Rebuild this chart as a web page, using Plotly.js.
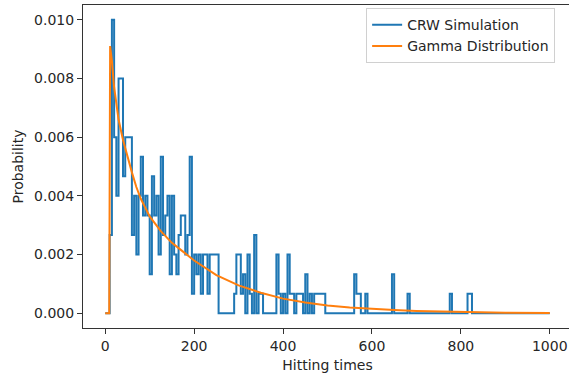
<!DOCTYPE html>
<html>
<head>
<meta charset="utf-8">
<script src="https://cdn.plot.ly/plotly-3.0.1.min.js"></script>
<style>
html,body{margin:0;padding:0;overflow:hidden;background:#fff;}
#chart{width:575px;height:376px;}
</style>
</head>
<body>
<div id="chart"></div>
<script>
// CRW simulation: probability per 5-unit bin of hitting time, starting at t=0
var crwStart = 0;
var crwBinWidth = 5;
var crwProbability = [
  0, 0, 0.00267, 0.01, 0.006, 0.004, 0.008, 0.008, 0.00467, 0.006,
  0.006, 0.006, 0.00267, 0.004, 0.002, 0.004, 0.00533, 0.00333, 0.004, 0.00333,
  0.00133, 0.00467, 0.00333, 0.004, 0.002, 0.00533, 0.00267, 0.00333, 0.004, 0.00133,
  0.004, 0.002, 0.00133, 0.00267, 0.00333, 0.00333, 0.002, 0.00267, 0.00533, 0.00067,
  0.002, 0.00133, 0.002, 0.00067, 0.002, 0.002, 0.00067, 0.002, 0.002, 0.002,
  0.002, 0, 0, 0, 0, 0, 0, 0, 0.00067, 0.002,
  0.002, 0.00067, 0.00133, 0, 0.002, 0.00067, 0, 0.00267, 0, 0.00067,
  0.00067, 0, 0, 0, 0, 0, 0, 0.002, 0.00067, 0,
  0.00067, 0, 0.002, 0.00067, 0.00067, 0, 0.00067, 0.00067, 0.00067, 0,
  0.00133, 0, 0.00067, 0, 0.00067, 0.00067, 0.00067, 0.00067, 0.00067, 0,
  0, 0, 0, 0, 0, 0, 0, 0, 0, 0,
  0, 0, 0.00133, 0.00067, 0.00067, 0, 0, 0.00067, 0, 0,
  0, 0, 0, 0, 0, 0, 0, 0, 0, 0.00133,
  0, 0, 0, 0, 0, 0, 0.00067, 0, 0, 0,
  0, 0, 0, 0, 0, 0, 0, 0, 0, 0,
  0, 0, 0, 0, 0, 0.00067, 0, 0, 0, 0,
  0, 0, 0, 0.00067, 0.00067, 0, 0, 0, 0, 0,
  0, 0, 0, 0, 0, 0, 0, 0, 0, 0,
  0, 0, 0, 0, 0, 0, 0, 0, 0, 0,
  0, 0, 0, 0, 0, 0, 0, 0, 0, 0,
  0
];

// Gamma distribution fit
var gammaTimes = [0, 9, 11, 15, 20, 25, 30, 40, 50, 60, 70, 80, 90, 100, 125, 150, 175, 200,
                  250, 300, 350, 400, 450, 500, 550, 600, 650, 700, 800, 900, 1000];
var gammaProbability = [0, 0, 0.0091, 0.0086, 0.0077, 0.0071, 0.0066, 0.0059, 0.0053, 0.0048,
                        0.0043, 0.0039, 0.0036, 0.0033, 0.0028, 0.0024, 0.0021, 0.0018,
                        0.0013, 0.00095, 0.0007, 0.0005, 0.00037, 0.00027, 0.0002, 0.00015,
                        0.00011, 0.00008, 0.00004, 0.00002, 0.00001];

var xTicks = [0, 200, 400, 600, 800, 1000];
var yTicks = [0, 0.002, 0.004, 0.006, 0.008, 0.010];
var yTickLabels = ['0.000', '0.002', '0.004', '0.006', '0.008', '0.010'];

var font = {family: 'DejaVu Sans', size: 14, color: '#262626'};

var traces = [
  {
    type: 'scatter', mode: 'lines', name: 'CRW Simulation',
    x0: crwStart, dx: crwBinWidth, y: crwProbability,
    line: {color: '#1f77b4', width: 2, shape: 'hv'}
  },
  {
    type: 'scatter', mode: 'lines', name: 'Gamma Distribution',
    x: gammaTimes, y: gammaProbability,
    line: {color: '#ff7f0e', width: 2}
  }
];

var axisCommon = {
  showgrid: false, zeroline: false, showline: true, linecolor: '#333', linewidth: 1,
  mirror: true, ticks: 'outside', ticklen: 5, tickwidth: 1, tickcolor: '#333',
  tickfont: font
};

var layout = {
  width: 575, height: 376,
  margin: {l: 83, r: 3, t: 5, b: 48},
  paper_bgcolor: '#fff', plot_bgcolor: '#fff',
  font: font,
  showlegend: true,
  legend: {
    x: 0.579, y: 0.99, xanchor: 'left', yanchor: 'top',
    bgcolor: 'rgba(255,255,255,0.8)', bordercolor: '#d0d0d0', borderwidth: 1,
    font: font, tracegroupgap: 0
  },
  xaxis: Object.assign({}, axisCommon, {
    range: [-50, 1050], tickvals: xTicks, ticktext: xTicks.map(String),
    title: {text: 'Hitting times', font: font, standoff: 7}
  }),
  yaxis: Object.assign({}, axisCommon, {
    range: [-0.0005, 0.0105], tickvals: yTicks, ticktext: yTickLabels,
    title: {text: 'Probability', font: font, standoff: 7}
  })
};

Plotly.newPlot('chart', traces, layout, {displayModeBar: false, staticPlot: true});
</script>
</body>
</html>
